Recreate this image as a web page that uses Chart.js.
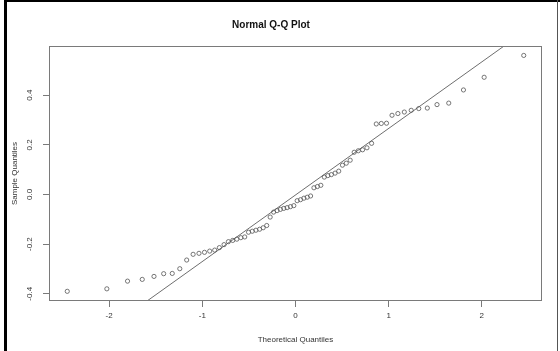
<!DOCTYPE html>
<html>
<head>
<meta charset="utf-8">
<script src="https://cdn.jsdelivr.net/npm/chart.js@4/dist/chart.umd.min.js"></script>
<style>
  html, body { margin: 0; padding: 0; background: #fff; }
  #wrap { position: relative; width: 560px; height: 351px; overflow: hidden; background: #fff; }
  #c { position: absolute; left: 0; top: 0; }
  .frame { position: absolute; background: #000; }
</style>
</head>
<body>
<div id="wrap">
  <canvas id="c" width="560" height="351"></canvas>
  <div class="frame" style="left:4px;top:0;width:3px;height:351px;"></div>
  <div class="frame" style="left:4px;top:0;width:556px;height:2px;"></div>
  <div class="frame" style="left:557px;top:0;width:1px;height:351px;background:#555;"></div>
</div>
<script>
// ---- data ----
const chartTitle = "Normal Q-Q Plot";
const xAxisTitle = "Theoretical Quantiles";
const yAxisTitle = "Sample Quantiles";

const theoreticalQuantiles = [
  -2.450, -2.025, -1.803, -1.645, -1.519, -1.415, -1.323, -1.242, -1.168, -1.099,
  -1.036, -0.977, -0.921, -0.867, -0.817, -0.767, -0.720, -0.674, -0.630, -0.587,
  -0.545, -0.504, -0.464, -0.425, -0.385, -0.347, -0.309, -0.272, -0.235, -0.198,
  -0.162, -0.126, -0.090, -0.054, -0.018,  0.018,  0.054,  0.090,  0.126,  0.162,
   0.198,  0.235,  0.272,  0.309,  0.347,  0.385,  0.425,  0.464,  0.504,  0.545,
   0.587,  0.630,  0.674,  0.720,  0.767,  0.817,  0.867,  0.921,  0.977,  1.036,
   1.099,  1.168,  1.242,  1.323,  1.415,  1.519,  1.645,  1.803,  2.025,  2.450
];
const sampleQuantiles = [
  -0.390, -0.380, -0.349, -0.342, -0.330, -0.319, -0.318, -0.299, -0.264, -0.241,
  -0.237, -0.233, -0.228, -0.224, -0.214, -0.202, -0.190, -0.185, -0.180, -0.174,
  -0.171, -0.152, -0.148, -0.144, -0.140, -0.134, -0.125, -0.091, -0.071, -0.065,
  -0.060, -0.056, -0.053, -0.049, -0.045, -0.025, -0.021, -0.015, -0.011, -0.006,
   0.027,  0.032,  0.037,  0.070,  0.076,  0.080,  0.086,  0.094,  0.118,  0.126,
   0.138,  0.170,  0.176,  0.180,  0.188,  0.206,  0.284,  0.286,  0.287,  0.319,
   0.326,  0.332,  0.339,  0.346,  0.348,  0.362,  0.368,  0.421,  0.472,  0.560
];
// reference line (qqline)
const qqlineIntercept = -0.002;
const qqlineSlope = 0.268;

const xTickValues = [-2, -1, 0, 1, 2];
const yTickValues = [-0.4, -0.2, 0.0, 0.2, 0.4];
const xRange = [-2.646, 2.646];
const yRange = [-0.429, 0.598];

// ---- build ----
const points = theoreticalQuantiles.map((x, i) => ({ x: x, y: sampleQuantiles[i] }));
const lineEnds = [xRange[0] - 1, xRange[1] + 1].map(x => ({ x: x, y: qqlineIntercept + qqlineSlope * x }));

const FONT = "'Liberation Sans', Arial, Helvetica, sans-serif";
const GREY = '#7a7a7a';

const boxPlugin = {
  id: 'plotBox',
  afterDraw(chart) {
    const a = chart.chartArea, ctx = chart.ctx;
    ctx.save();
    ctx.strokeStyle = GREY;
    ctx.lineWidth = 1;
    ctx.strokeRect(Math.round(a.left) + 0.5, Math.round(a.top) + 0.5,
                   Math.round(a.right - a.left) - 1, Math.round(a.bottom - a.top) - 1);
    ctx.restore();
  }
};
const bgPlugin = {
  id: 'bg',
  beforeDraw(chart) {
    const ctx = chart.ctx;
    ctx.save(); ctx.fillStyle = '#fff'; ctx.fillRect(0, 0, chart.width, chart.height); ctx.restore();
  }
};

new Chart(document.getElementById('c'), {
  type: 'scatter',
  data: {
    datasets: [
      {
        type: 'line',
        data: lineEnds,
        borderColor: '#6e6e6e',
        borderWidth: 1,
        pointRadius: 0,
        fill: false,
        tension: 0,
        order: 2
      },
      {
        data: points,
        pointStyle: 'circle',
        pointRadius: 2.1,
        pointBorderWidth: 0.8,
        borderColor: '#555',
        backgroundColor: 'rgba(0,0,0,0)',
        pointBackgroundColor: 'rgba(0,0,0,0)',
        pointBorderColor: '#555',
        order: 1
      }
    ]
  },
  options: {
    responsive: false,
    animation: false,
    devicePixelRatio: 1,
    events: [],
    layout: { padding: { left: 0, right: 18, top: 0, bottom: 0 } },
    plugins: {
      legend: { display: false },
      tooltip: { enabled: false },
      title: {
        display: true,
        text: chartTitle,
        color: '#111',
        font: { family: FONT, size: 10, weight: 'bold', lineHeight: 1.2 },
        padding: { top: 19, bottom: 15 }
      }
    },
    scales: {
      x: {
        type: 'linear',
        position: 'bottom',
        min: xRange[0],
        max: xRange[1],
        afterBuildTicks: s => { s.ticks = xTickValues.map(v => ({ value: v })); },
        afterFit: s => { s.height = 50; },
        border: { display: false },
        grid: { display: true, drawOnChartArea: false, drawTicks: true, tickLength: 6, color: GREY, tickColor: GREY },
        ticks: {
          color: '#333',
          font: { family: FONT, size: 8 },
          padding: 4,
          maxRotation: 0,
          autoSkip: false,
          callback: v => String(v)
        },
        title: {
          display: true,
          text: xAxisTitle,
          color: '#333',
          font: { family: FONT, size: 8, lineHeight: 1.2 },
          padding: { top: 0, bottom: 6 }
        }
      },
      y: {
        type: 'linear',
        position: 'left',
        min: yRange[0],
        max: yRange[1],
        afterBuildTicks: s => { s.ticks = yTickValues.map(v => ({ value: v })); },
        afterFit: s => { s.width = 49; },
        border: { display: false },
        grid: { display: true, drawOnChartArea: false, drawTicks: true, tickLength: 6, color: GREY, tickColor: GREY },
        ticks: {
          color: '#333',
          font: { family: FONT, size: 8 },
          padding: 6,
          minRotation: 90,
          maxRotation: 90,
          crossAlign: 'center',
          autoSkip: false,
          callback: v => v.toFixed(1)
        },
        title: {
          display: true,
          text: yAxisTitle,
          color: '#333',
          font: { family: FONT, size: 8, lineHeight: 1.2 },
          padding: { top: 10, bottom: 0 }
        }
      }
    }
  },
  plugins: [bgPlugin, boxPlugin]
});
</script>
</body>
</html>
